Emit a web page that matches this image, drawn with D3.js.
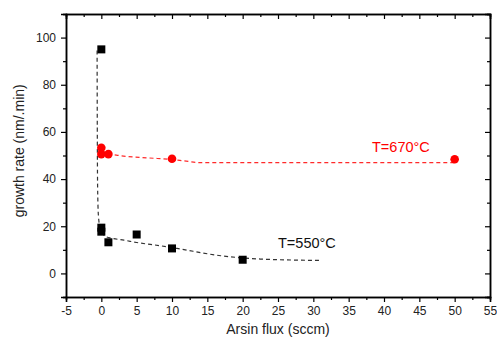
<!DOCTYPE html>
<html>
<head>
<meta charset="utf-8">
<script src="https://cdn.jsdelivr.net/npm/d3@7"></script>
<style>
  body { margin: 0; background: #fff; }
  svg text { font-family: "Liberation Sans", Arial, sans-serif; }
  .axis path, .axis line { stroke: #000; }
  .axis text { font-size: 12px; fill: #222; }
</style>
</head>
<body>
<div id="chart"></div>
<script>
// measured points, 550 C (squares)
var flux550 = [0, 0, 0, 1, 5, 10, 20];
var rate550 = [95, 19.4, 17.7, 13.2, 16.5, 10.6, 5.8];
// measured points, 670 C (circles)
var flux670 = [0, 0, 1, 10, 50];
var rate670 = [53.3, 50.6, 50.6, 48.6, 48.4];
// fit curves
var fit550X = [-0.6, -0.58, -0.55, -0.5, -0.4, -0.2, 0.2, 0.6, 1.5, 3.2, 5, 8.4, 10.7, 16.9, 22.5, 31];
var fit550Y = [94.5, 70, 45, 32, 24, 19.8, 17, 15.7, 14.9, 14.1, 13.1, 11.7, 10.6, 7.5, 6.1, 5.5];
var fit670X = [0, 1, 2.5, 6.5, 10, 12, 14, 50];
var fit670Y = [52, 50.8, 50, 49, 48.3, 47.6, 47, 47];
// ticks
var xTicks = [-5, 0, 5, 10, 15, 20, 25, 30, 35, 40, 45, 50, 55];
var xMinor = [-2.5, 2.5, 7.5, 12.5, 17.5, 22.5, 27.5, 32.5, 37.5, 42.5, 47.5, 52.5];
var yTicks = [0, 20, 40, 60, 80, 100];
var yMinor = [-10, 10, 30, 50, 70, 90, 110];

var W = 497, H = 338;
var svg = d3.select('#chart').append('svg')
  .attr('width', W)
  .attr('height', H);

var xScale = d3.scaleLinear().domain([-5, 55]).range([66, 490]);
var yScale = d3.scaleLinear().domain([-10, 110]).range([297, 14]);
var plain = (d)=> String(d);  // keep the ascii hyphen for "-5"

// bottom + left axes with labels, ticks outward
svg.append('g').attr('class', 'axis')
  .attr('transform', 'translate(0,297)')
  .call(d3.axisBottom(xScale).tickValues(xTicks).tickSize(5).tickPadding(4).tickFormat(plain));
svg.append('g').attr('class', 'axis')
  .attr('transform', 'translate(0,297)')
  .call(d3.axisBottom(xScale).tickValues(xMinor).tickSize(3).tickFormat(''));
svg.append('g').attr('class', 'axis')
  .attr('transform', 'translate(66,0)')
  .call(d3.axisLeft(yScale).tickValues(yTicks).tickSize(5).tickPadding(5).tickFormat(plain));
svg.append('g').attr('class', 'axis')
  .attr('transform', 'translate(66,0)')
  .call(d3.axisLeft(yScale).tickValues(yMinor).tickSize(3).tickFormat(''));

// top + right mirror axes, ticks inward, no labels
svg.append('g').attr('class', 'axis')
  .attr('transform', 'translate(0,14)')
  .call(d3.axisBottom(xScale).tickValues(xTicks).tickSize(5).tickFormat(''));
svg.append('g').attr('class', 'axis')
  .attr('transform', 'translate(0,14)')
  .call(d3.axisBottom(xScale).tickValues(xMinor).tickSize(3).tickFormat(''));
svg.append('g').attr('class', 'axis')
  .attr('transform', 'translate(490,0)')
  .call(d3.axisLeft(yScale).tickValues(yTicks).tickSize(5).tickFormat(''));
svg.append('g').attr('class', 'axis')
  .attr('transform', 'translate(490,0)')
  .call(d3.axisLeft(yScale).tickValues(yMinor).tickSize(3).tickFormat(''));

svg.selectAll('.axis path').attr('stroke-width', 1.5);
svg.selectAll('.axis .tick line').attr('stroke-width', 1.2);

// axis titles
svg.append('text')
  .attr('x', xScale(25))
  .attr('y', 334)
  .attr('text-anchor', 'middle')
  .style('font-size', '14px')
  .attr('fill', '#222')
  .text('Arsin flux (sccm)');
svg.append('text')
  .attr('transform', 'translate(24,' + yScale(52) + ') rotate(-90)')
  .attr('text-anchor', 'middle')
  .style('font-size', '14px')
  .attr('fill', '#222')
  .text('growth rate (nm/.min)');

// fit lines
var line = d3.line()
  .x((d)=> xScale(d[0]))
  .y((d)=> yScale(d[1]))
  .curve(d3.curveMonotoneX);

svg.append('path')
  .datum(fit550X.map((x, i)=> [x, fit550Y[i]]))
  .attr('d', line)
  .attr('fill', 'none')
  .attr('stroke', '#333')
  .attr('stroke-width', 1.2)
  .attr('stroke-dasharray', '4,3');

svg.append('path')
  .datum(fit670X.map((x, i)=> [x, fit670Y[i]]))
  .attr('d', line)
  .attr('fill', 'none')
  .attr('stroke', '#ff2a2a')
  .attr('stroke-width', 1.2)
  .attr('stroke-dasharray', '4,3');

// points
svg.append('g').selectAll('rect').data(flux550).enter()
  .append('rect')
  .attr('x', (d)=> xScale(d) - 4)
  .attr('y', (d, i)=> yScale(rate550[i]) - 4)
  .attr('width', 8)
  .attr('height', 8)
  .attr('fill', '#000');

svg.append('g').selectAll('circle').data(flux670).enter()
  .append('circle')
  .attr('cx', (d)=> xScale(d))
  .attr('cy', (d, i)=> yScale(rate670[i]))
  .attr('r', 4.3)
  .attr('fill', '#ff0000');

// labels
svg.append('text')
  .attr('x', 372)
  .attr('y', 152)
  .style('font-size', '14.5px')
  .attr('fill', '#ff0000')
  .text('T=670°C');
svg.append('text')
  .attr('x', 278)
  .attr('y', 248)
  .style('font-size', '14.5px')
  .attr('fill', '#111')
  .text('T=550°C');
</script>
</body>
</html>
